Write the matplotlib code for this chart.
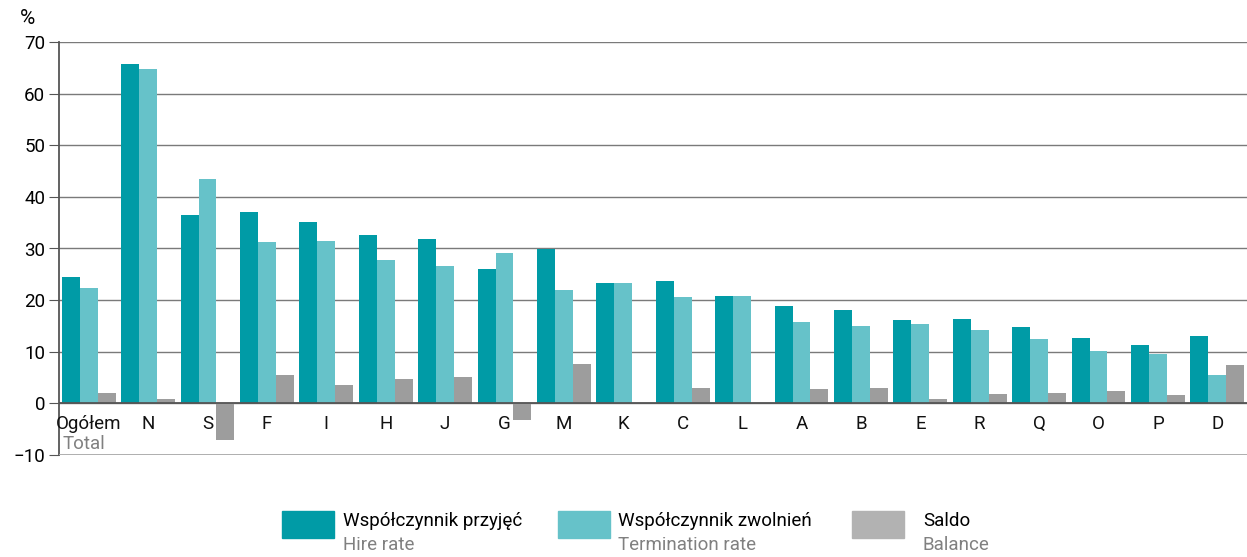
import matplotlib
matplotlib.use("Agg")
import matplotlib.pyplot as plt
from matplotlib.patches import Rectangle
import numpy as np

plt.rcParams['font.family'] = ['Roboto', 'DejaVu Sans']

# data
categories = ['Ogółem', 'N', 'S', 'F', 'I', 'H', 'J', 'G', 'M', 'K',
              'C', 'L', 'A', 'B', 'E', 'R', 'Q', 'O', 'P', 'D']
hire = [24.4, 65.7, 36.5, 37.0, 35.1, 32.6, 31.8, 26.0, 29.9, 23.3,
        23.8, 20.8, 18.9, 18.1, 16.2, 16.4, 14.7, 12.7, 11.3, 13.1]
termination = [22.3, 64.8, 43.4, 31.2, 31.4, 27.7, 26.6, 29.1, 21.9, 23.3,
               20.6, 20.8, 15.8, 15.0, 15.3, 14.3, 12.5, 10.2, 9.5, 5.5]
balance = [2.0, 0.8, -7.0, 5.4, 3.5, 4.7, 5.2, -3.3, 7.6, 0.0,
           3.0, 0.0, 2.8, 3.0, 0.8, 1.9, 2.0, 2.4, 1.6, 7.5]

legend_pl = ['Współczynnik przyjęć', 'Współczynnik zwolnień', 'Saldo']
legend_en = ['Hire rate', 'Termination rate', 'Balance']

c_hire = '#009ba6'
c_term = '#66c2c9'
c_bal = '#9d9d9d'
c_bal_leg = '#b2b2b2'
grey_txt = '#808080'
fs = 13.5

fig = plt.figure(figsize=(12.47, 5.57), dpi=100)
W, H = 1247, 557
ax = fig.add_axes([59 / W, 1 - 455 / H, 1 - 59 / W, (455 - 42) / H])

x = np.arange(len(categories))
bw = 0.303
ax.bar(x - bw, hire, bw, color=c_hire, zorder=3)
ax.bar(x, termination, bw, color=c_term, zorder=3)
ax.bar(x + bw, balance, bw, color=c_bal, zorder=3)

ax.set_xlim(-0.5, len(categories) - 0.5)
ax.set_ylim(-10, 70)
ax.set_yticks(np.arange(-10, 71, 10))
ax.tick_params(axis='y', labelsize=fs, length=7, color='#555555', pad=3)
ax.set_xticks([])
ax.yaxis.grid(True, color='#7a7a7a', linewidth=1, zorder=0)
ax.axhline(0, color='#555555', linewidth=1.3, zorder=4)
ax.axhline(-10, color='#aaaaaa', linewidth=2, zorder=4)
for s in ['top', 'right', 'bottom']:
    ax.spines[s].set_visible(False)
ax.spines['left'].set_color('#555555')
ax.spines['left'].set_linewidth(1.3)

# category labels just below zero line
for i, c in enumerate(categories):
    ax.text(i, -2.2, c, ha='center', va='top', fontsize=fs, color='#111111')
ax.text(-0.44, -6.2, 'Total', ha='left', va='top', fontsize=fs, color=grey_txt)

fig.text(20 / W, 1 - 18 / H, '%', fontsize=15, va='center', ha='left')

# legend drawn manually
patch_x = [282, 558, 852]
text_x = [343, 618, 923]
cols = [c_hire, c_term, c_bal_leg]
for px, tx, col, pl, en in zip(patch_x, text_x, cols, legend_pl, legend_en):
    fig.add_artist(Rectangle((px / W, 1 - 538 / H), 52 / W, 27 / H,
                             transform=fig.transFigure, color=col))
    fig.text(tx / W, 1 - 521 / H, pl, fontsize=fs, va='center', ha='left')
    fig.text(tx / W, 1 - 545 / H, en, fontsize=fs, va='center', ha='left', color=grey_txt)

fig.savefig('out.png', dpi=100)
